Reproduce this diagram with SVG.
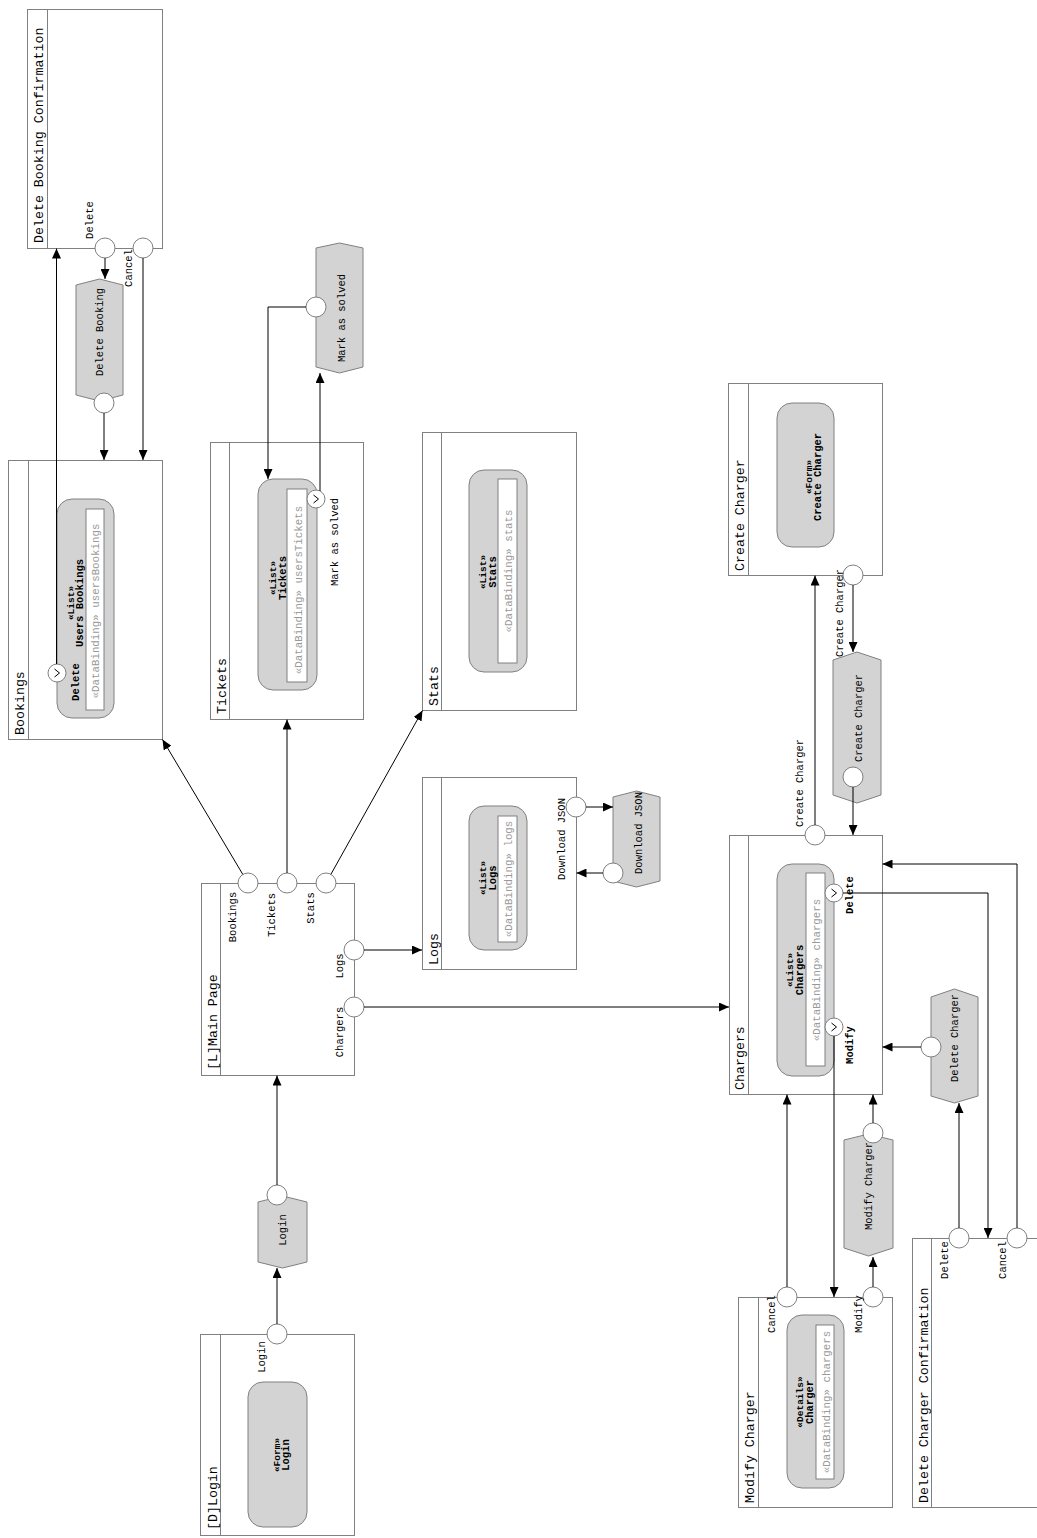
<svg xmlns="http://www.w3.org/2000/svg" width="1037" height="1538" viewBox="0 0 1037 1538">
<style>
.box{fill:#fff;stroke:#808080;stroke-width:1}
.sep{stroke:#808080;stroke-width:1}
.comp{fill:#d3d3d3;stroke:#808080;stroke-width:1}
.bind{fill:#fff;stroke:#808080;stroke-width:1}
.act{fill:#d3d3d3;stroke:#808080;stroke-width:1}
.port{fill:#fff;stroke:#808080;stroke-width:1}
.chev{fill:none;stroke:#000;stroke-width:1}
.edge{fill:none;stroke:#000;stroke-width:1;marker-end:url(#arr)}
text{font-family:"Liberation Mono","Courier New",monospace;fill:#000}
.title{font-size:13.3px}
.lbl{font-size:10.5px;text-anchor:middle}
.st{font-size:9.5px;font-weight:bold;text-anchor:middle}
.nm{font-size:10.5px;font-weight:bold;text-anchor:middle}
.db{font-size:10.8px;fill:#999;text-anchor:middle}
.an{font-size:10.5px;text-anchor:middle}
</style>
<defs>
<marker id="arr" markerWidth="10" markerHeight="9" refX="10" refY="4.5" orient="auto" markerUnits="userSpaceOnUse"><path d="M0,0 L10,4.5 L0,9 z" fill="#000"/></marker>
<path id="chv" d="M-2.5,-4 L2.5,0 L-2.5,4" class="chev"/>
</defs>

<g id="delete-booking-confirmation">
<rect class="box" x="27.5" y="9.5" width="135" height="239"/>
<line class="sep" x1="47.5" y1="9.5" x2="47.5" y2="248.5"/>
<text class="title" transform="translate(43,243) rotate(-90)">Delete Booking Confirmation</text>
<circle class="port" cx="105" cy="248" r="10"/>
<circle class="port" cx="143" cy="248" r="10"/>
<text class="lbl" transform="translate(93,220) rotate(-90)">Delete</text>
<text class="lbl" transform="translate(132,268) rotate(-90)">Cancel</text>
</g>

<g id="delete-booking-action">
<path class="act" d="M76,285 L99.5,279 L123,285 L123,395 L99.5,401 L76,395 Z"/>
<circle class="port" cx="104" cy="403" r="10"/>
<text class="an" transform="translate(103,332) rotate(-90)">Delete Booking</text>
</g>

<g id="bookings">
<rect class="box" x="8.5" y="460.5" width="154" height="279"/>
<line class="sep" x1="28.5" y1="460.5" x2="28.5" y2="739.5"/>
<text class="title" transform="translate(24,735) rotate(-90)">Bookings</text>
<rect class="comp" x="57" y="499" width="57" height="219" rx="15"/>
<rect class="bind" x="86" y="509" width="18" height="201"/>
<text class="st" transform="translate(74,603) rotate(-90)">«List»</text>
<text class="nm" transform="translate(83,603) rotate(-90)">Users Bookings</text>
<text class="db" transform="translate(99,611) rotate(-90)">«DataBinding» usersBookings</text>
<circle class="port" cx="57" cy="673" r="9"/>
<use href="#chv" transform="translate(57,673)"/>
<text class="nm" transform="translate(79,682) rotate(-90)">Delete</text>
</g>

<g id="tickets">
<rect class="box" x="210.5" y="442.5" width="153" height="277"/>
<line class="sep" x1="229.5" y1="442.5" x2="229.5" y2="719.5"/>
<text class="title" transform="translate(226,714) rotate(-90)">Tickets</text>
<rect class="comp" x="258" y="479" width="59" height="211" rx="15"/>
<rect class="bind" x="287" y="489" width="20" height="193"/>
<text class="st" transform="translate(276,578) rotate(-90)">«List»</text>
<text class="nm" transform="translate(286,578) rotate(-90)">Tickets</text>
<text class="db" transform="translate(302,590) rotate(-90)">«DataBinding» usersTickets</text>
<circle class="port" cx="316" cy="499" r="9"/>
<use href="#chv" transform="translate(316,499)"/>
<text class="lbl" transform="translate(338,542) rotate(-90)">Mark as solved</text>
</g>

<g id="mark-as-solved-action">
<path class="act" d="M316,248 L339.5,243 L363,248 L363,367 L339.5,373 L316,367 Z"/>
<circle class="port" cx="316" cy="307" r="10"/>
<text class="an" transform="translate(345,318) rotate(-90)">Mark as solved</text>
</g>

<g id="stats">
<rect class="box" x="422.5" y="432.5" width="154" height="278"/>
<line class="sep" x1="441.5" y1="432.5" x2="441.5" y2="710.5"/>
<text class="title" transform="translate(438,706) rotate(-90)">Stats</text>
<rect class="comp" x="469" y="470" width="58" height="202" rx="15"/>
<rect class="bind" x="498" y="479" width="19" height="184"/>
<text class="st" transform="translate(486,572) rotate(-90)">«List»</text>
<text class="nm" transform="translate(496,572) rotate(-90)">Stats</text>
<text class="db" transform="translate(512,571) rotate(-90)">«DataBinding» stats</text>
</g>

<g id="logs">
<rect class="box" x="422.5" y="777.5" width="154" height="192"/>
<line class="sep" x1="441.5" y1="777.5" x2="441.5" y2="969.5"/>
<text class="title" transform="translate(438,965) rotate(-90)">Logs</text>
<rect class="comp" x="469" y="806" width="58" height="144" rx="15"/>
<rect class="bind" x="498" y="816" width="19" height="126"/>
<text class="st" transform="translate(486,878) rotate(-90)">«List»</text>
<text class="nm" transform="translate(496,878) rotate(-90)">Logs</text>
<text class="db" transform="translate(512,879) rotate(-90)">«DataBinding» logs</text>
<circle class="port" cx="576" cy="807" r="10"/>
<text class="lbl" transform="translate(565,839) rotate(-90)">Download JSON</text>
</g>

<g id="download-json-action">
<path class="act" d="M613,797 L636.5,791 L660,797 L660,881 L636.5,887 L613,881 Z"/>
<circle class="port" cx="613" cy="873" r="10"/>
<text class="an" transform="translate(642,833) rotate(-90)">Download JSON</text>
</g>

<g id="main-page">
<rect class="box" x="201.5" y="883.5" width="153" height="192"/>
<line class="sep" x1="220.5" y1="883.5" x2="220.5" y2="1075.5"/>
<text class="title" transform="translate(217,1070) rotate(-90)">[L]Main Page</text>
<circle class="port" cx="248" cy="883" r="10"/>
<circle class="port" cx="287" cy="883" r="10"/>
<circle class="port" cx="326" cy="883" r="10"/>
<circle class="port" cx="354" cy="950" r="10"/>
<circle class="port" cx="354" cy="1007" r="10"/>
<text class="lbl" transform="translate(236,917) rotate(-90)">Bookings</text>
<text class="lbl" transform="translate(275,915) rotate(-90)">Tickets</text>
<text class="lbl" transform="translate(314,908) rotate(-90)">Stats</text>
<text class="lbl" transform="translate(343,966) rotate(-90)">Logs</text>
<text class="lbl" transform="translate(343,1032) rotate(-90)">Chargers</text>
</g>

<g id="login-action">
<path class="act" d="M258,1202 L282.5,1196 L307,1202 L307,1262 L282.5,1268 L258,1262 Z"/>
<circle class="port" cx="277" cy="1195" r="10"/>
<text class="an" transform="translate(286,1230) rotate(-90)">Login</text>
</g>

<g id="login">
<rect class="box" x="200.5" y="1334.5" width="154" height="201"/>
<line class="sep" x1="220.5" y1="1334.5" x2="220.5" y2="1535.5"/>
<text class="title" transform="translate(217,1530) rotate(-90)">[D]Login</text>
<rect class="comp" x="248" y="1382" width="59" height="145" rx="15"/>
<text class="st" transform="translate(280,1455) rotate(-90)">«Form»</text>
<text class="nm" transform="translate(289,1455) rotate(-90)">Login</text>
<circle class="port" cx="277" cy="1334" r="10"/>
<text class="lbl" transform="translate(265,1357) rotate(-90)">Login</text>
</g>

<g id="create-charger">
<rect class="box" x="728.5" y="383.5" width="154" height="192"/>
<line class="sep" x1="748.5" y1="383.5" x2="748.5" y2="575.5"/>
<text class="title" transform="translate(744,571) rotate(-90)">Create Charger</text>
<rect class="comp" x="777" y="403" width="57" height="144" rx="15"/>
<text class="st" transform="translate(812,477) rotate(-90)">«Form»</text>
<text class="nm" transform="translate(821,477) rotate(-90)">Create Charger</text>
<circle class="port" cx="853" cy="575" r="10"/>
<text class="lbl" transform="translate(843,613) rotate(-90)">Create Charger</text>
</g>

<g id="create-charger-action">
<path class="act" d="M833,660 L857,652 L881,660 L881,795 L857,803 L833,795 Z"/>
<circle class="port" cx="853" cy="777" r="10"/>
<text class="an" transform="translate(862,718) rotate(-90)">Create Charger</text>
</g>

<g id="chargers">
<rect class="box" x="729.5" y="835.5" width="153" height="259"/>
<line class="sep" x1="748.5" y1="835.5" x2="748.5" y2="1094.5"/>
<text class="title" transform="translate(744,1090) rotate(-90)">Chargers</text>
<rect class="comp" x="777" y="864" width="57" height="212" rx="15"/>
<rect class="bind" x="806" y="873" width="19" height="193"/>
<text class="st" transform="translate(793,970) rotate(-90)">«List»</text>
<text class="nm" transform="translate(803,970) rotate(-90)">Chargers</text>
<text class="db" transform="translate(820,970) rotate(-90)">«DataBinding» chargers</text>
<circle class="port" cx="815" cy="835" r="10"/>
<text class="lbl" transform="translate(803,783) rotate(-90)">Create Charger</text>
<circle class="port" cx="834" cy="893" r="9"/>
<use href="#chv" transform="translate(834,893)"/>
<circle class="port" cx="834" cy="1027" r="9"/>
<use href="#chv" transform="translate(834,1027)"/>
<text class="nm" transform="translate(853,895) rotate(-90)">Delete</text>
<text class="nm" transform="translate(853,1045) rotate(-90)">Modify</text>
</g>

<g id="delete-charger-action">
<path class="act" d="M931,997 L954.5,989 L978,997 L978,1096 L954.5,1103 L931,1096 Z"/>
<circle class="port" cx="931" cy="1047" r="10"/>
<text class="an" transform="translate(958,1038) rotate(-90)">Delete Charger</text>
</g>

<g id="modify-charger-action">
<path class="act" d="M844,1140 L868.5,1134 L893,1140 L893,1248 L868.5,1256 L844,1248 Z"/>
<circle class="port" cx="873" cy="1133" r="10"/>
<text class="an" transform="translate(872,1186) rotate(-90)">Modify Charger</text>
</g>

<g id="modify-charger">
<rect class="box" x="738.5" y="1297.5" width="154" height="210"/>
<line class="sep" x1="758.5" y1="1297.5" x2="758.5" y2="1507.5"/>
<text class="title" transform="translate(754,1503) rotate(-90)">Modify Charger</text>
<rect class="comp" x="787" y="1315" width="57" height="173" rx="15"/>
<rect class="bind" x="816" y="1325" width="18" height="154"/>
<text class="st" transform="translate(803,1402) rotate(-90)">«Details»</text>
<text class="nm" transform="translate(813,1402) rotate(-90)">Charger</text>
<text class="db" transform="translate(830,1402) rotate(-90)">«DataBinding» chargers</text>
<circle class="port" cx="787" cy="1297" r="10"/>
<circle class="port" cx="873" cy="1297" r="10"/>
<text class="lbl" transform="translate(775,1314) rotate(-90)">Cancel</text>
<text class="lbl" transform="translate(862,1314) rotate(-90)">Modify</text>
</g>

<g id="delete-charger-confirmation">
<rect class="box" x="912.5" y="1238.5" width="160" height="269"/>
<line class="sep" x1="931.5" y1="1238.5" x2="931.5" y2="1507.5"/>
<text class="title" transform="translate(928,1503) rotate(-90)">Delete Charger Confirmation</text>
<circle class="port" cx="959" cy="1238" r="10"/>
<circle class="port" cx="1017" cy="1238" r="10"/>
<text class="lbl" transform="translate(948,1260) rotate(-90)">Delete</text>
<text class="lbl" transform="translate(1006,1260) rotate(-90)">Cancel</text>
</g>

<g id="connectors">
<path class="edge" d="M56.5,664 L56.5,248.5"/>
<path class="edge" d="M105,258 L105,279"/>
<path class="edge" d="M104,413 L104,460"/>
<path class="edge" d="M143,258 L143,460"/>
<path class="edge" d="M242.8,874.4 L162.5,739.5"/>
<path class="edge" d="M287,873 L287,719.5"/>
<path class="edge" d="M330.9,874.3 L422.5,710.5"/>
<path class="edge" d="M364,950 L422,950"/>
<path class="edge" d="M364,1007 L729,1007"/>
<path class="edge" d="M277,1324 L277,1268"/>
<path class="edge" d="M277,1185 L277,1075.5"/>
<path class="edge" d="M306,307 L268,307 L268,479"/>
<path class="edge" d="M320,491 L320,373"/>
<path class="edge" d="M586,807 L613,807"/>
<path class="edge" d="M603,873 L576.5,873"/>
<path class="edge" d="M815,825 L815,575.5"/>
<path class="edge" d="M853,585 L853,652"/>
<path class="edge" d="M853,787 L853,835"/>
<path class="edge" d="M843,893 L988,893 L988,1238"/>
<path class="edge" d="M1017,1228 L1017,864 L882.5,864"/>
<path class="edge" d="M921,1047 L882.5,1047"/>
<path class="edge" d="M959,1228 L959,1103"/>
<path class="edge" d="M834,1036 L834,1297"/>
<path class="edge" d="M787,1287 L787,1094.5"/>
<path class="edge" d="M873,1287 L873,1257"/>
<path class="edge" d="M873,1123 L873,1094.5"/>
</g>
</svg>
